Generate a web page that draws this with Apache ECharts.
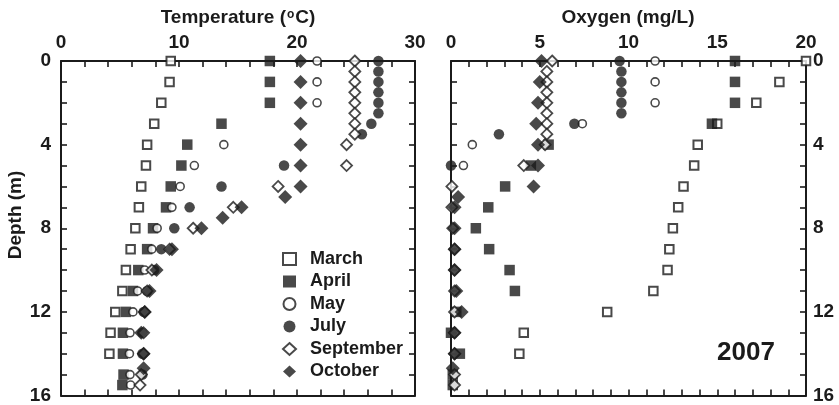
<!DOCTYPE html>
<html>
<head>
<meta charset="utf-8">
<script src="https://cdn.jsdelivr.net/npm/echarts@6/dist/echarts.min.js"></script>
<style>
html,body{margin:0;padding:0;background:#fff;}
#chart{width:839px;height:405px;}
</style>
</head>
<body>
<div id="chart"></div>
<script>
// ---- Data (depth in m; temperature in °C; oxygen in mg/L) ----
const months = ['March', 'April', 'May', 'July', 'September', 'October'];

const marchTempDepth = [0,1,2,3,4,5,6,7,8,9,10,11,12,13,14];
const marchTemp      = [9.3,9.2,8.5,7.9,7.3,7.2,6.8,6.6,6.3,5.9,5.5,5.2,4.6,4.2,4.1];
const marchOxyDepth  = [0,1,2,3,4,5,6,7,8,9,10,11,12,13,14];
const marchOxy       = [20.0,18.5,17.2,15.0,13.9,13.7,13.1,12.8,12.5,12.3,12.2,11.4,8.8,4.1,3.85];

const aprilTempDepth = [0,1,2,3,4,5,6,7,8,9,10,11,12,13,14,15,15.5];
const aprilTemp      = [17.7,17.7,17.7,13.6,10.7,10.2,9.3,8.9,7.8,7.3,6.55,6.1,5.5,5.25,5.25,5.3,5.2];
const aprilOxyDepth  = [0,1,2,3,4,5,6,7,8,9,10,11,12,13,14,15,15.5];
const aprilOxy       = [16.0,16.0,16.0,14.7,5.5,4.5,3.05,2.1,1.4,2.15,3.3,3.6,0.3,0.0,0.5,0.1,0.1];

const mayTempDepth = [0,1,2,4,5,6,7,8,9,10,11,12,13,14,15,15.5];
const mayTemp      = [21.7,21.7,21.7,13.8,11.3,10.1,9.4,8.15,7.7,7.1,6.5,6.1,5.85,5.8,5.85,5.9];
const mayOxyDepth  = [0,1,2,3,4,5];
const mayOxy       = [11.5,11.5,11.5,7.4,1.2,0.7];

const julyTempDepth = [0,0.5,1,1.5,2,2.5,3,3.5,5,6,7,8,9,10,11,12,13,14,15];
const julyTemp      = [26.9,26.9,26.9,26.9,26.9,26.9,26.3,25.5,18.9,13.6,10.9,9.6,8.5,7.9,7.3,7.0,6.9,6.9,6.9];
const julyOxyDepth  = [0,0.5,1,1.5,2,2.5,3,3.5,5];
const julyOxy       = [9.5,9.6,9.6,9.6,9.6,9.6,6.95,2.7,0.0];

const septTempDepth = [0,0.5,1,1.5,2,2.5,3,3.5,4,5,6,7,8,9,10,11,12,13,14,15,15.5];
const septTemp      = [24.9,24.9,24.9,24.9,24.9,24.9,24.9,24.9,24.2,24.2,18.4,14.6,11.2,9.2,7.7,7.3,7.1,7.0,7.0,6.8,6.7];
const septOxyDepth  = [0,0.5,1,1.5,2,2.5,3,3.5,4,5,6,7,8,9,10,11,12,13,14,15,15.5];
const septOxy       = [5.7,5.4,5.4,5.4,5.4,5.4,5.4,5.4,5.3,4.1,0.05,0.05,0.1,0.2,0.2,0.2,0.2,0.2,0.2,0.2,0.2];

const octTempDepth = [0,1,2,3,4,5,6,6.5,7,7.5,8,9,10,11,12,13,14,14.7];
const octTemp      = [20.3,20.3,20.3,20.3,20.3,20.3,20.3,19.0,15.3,13.7,11.9,9.4,8.1,7.5,7.1,6.8,7.0,7.0];
const octOxyDepth  = [0,1,2,3,4,5,6,6.5,7,8,9,10,11,12,13,14,14.7];
const octOxy       = [5.1,5.0,4.9,4.8,4.9,4.9,4.65,0.4,0.2,0.2,0.2,0.2,0.3,0.6,0.2,0.2,0.1];

const yearLabel = '2007';

// ---- Styling ----
const INK = '#1b1b1b';
const FONT = 'Liberation Sans, Arial, sans-serif';

const markerStyles = {
  'March':     {symbol: 'rect',    size: 8.5, itemStyle: {color: '#fff', borderColor: INK, borderWidth: 2}},
  'April':     {symbol: 'rect',    size: 10.5, itemStyle: {color: INK}},
  'May':       {symbol: 'circle',  size: 8,   itemStyle: {color: '#fff', borderColor: INK, borderWidth: 1.6}},
  'July':      {symbol: 'circle',  size: 10.5, itemStyle: {color: INK}},
  'September': {symbol: 'diamond', size: 11,  itemStyle: {color: '#fff', borderColor: INK, borderWidth: 1.8}},
  'October':   {symbol: 'diamond', size: 14,  itemStyle: {color: INK}}
};

const tempSets = {
  'March': [marchTempDepth, marchTemp], 'April': [aprilTempDepth, aprilTemp],
  'May': [mayTempDepth, mayTemp], 'July': [julyTempDepth, julyTemp],
  'September': [septTempDepth, septTemp], 'October': [octTempDepth, octTemp]
};
const oxySets = {
  'March': [marchOxyDepth, marchOxy], 'April': [aprilOxyDepth, aprilOxy],
  'May': [mayOxyDepth, mayOxy], 'July': [julyOxyDepth, julyOxy],
  'September': [septOxyDepth, septOxy], 'October': [octOxyDepth, octOxy]
};

function pairs(depths, vals) { return vals.map((v, i) => [v, depths[i]]); }

const series = [];
months.forEach(m => {
  const st = markerStyles[m];
  series.push({
    name: m, type: 'scatter', xAxisIndex: 0, yAxisIndex: 0,
    symbol: st.symbol, symbolSize: st.size, itemStyle: st.itemStyle,
    data: pairs(tempSets[m][0], tempSets[m][1]), animation: false, silent: true
  });
  series.push({
    name: m, type: 'scatter', xAxisIndex: 2, yAxisIndex: 3,
    symbol: st.symbol, symbolSize: st.size, itemStyle: st.itemStyle,
    data: pairs(oxySets[m][0], oxySets[m][1]), animation: false, silent: true
  });
});

const axisLine = {show: true, onZero: false, lineStyle: {color: INK, width: 2}};
const axisTick = {show: true, inside: true, length: 6, lineStyle: {color: INK, width: 1.6}};
const labelStyle = {color: INK, fontSize: 19, fontWeight: 'bold', fontFamily: FONT};

function xAx(grid, pos, max, interval, labelEvery, showLabel) {
  return {
    type: 'value', gridIndex: grid, position: pos, min: 0, max: max, interval: interval,
    axisLine: axisLine, axisTick: axisTick, splitLine: {show: false},
    axisLabel: Object.assign({show: showLabel, margin: 9,
      formatter: v => (Math.abs(v % labelEvery) < 1e-9 ? String(v) : '')}, labelStyle)
  };
}
function yAx(grid, pos, showLabel, margin) {
  return {
    type: 'value', gridIndex: grid, position: pos, inverse: true, min: 0, max: 16, interval: 1,
    axisLine: axisLine, axisTick: axisTick, splitLine: {show: false},
    axisLabel: Object.assign({show: showLabel, margin: margin,
      formatter: v => (v % 4 === 0 ? String(v) : '')}, labelStyle)
  };
}

const option = {
  backgroundColor: '#fff',
  animation: false,
  grid: [
    {left: 61, top: 61, width: 354, height: 335},
    {left: 451, top: 61, width: 355, height: 335}
  ],
  xAxis: [
    xAx(0, 'top', 30, 2, 10, true),
    xAx(0, 'bottom', 30, 2, 10, false),
    xAx(1, 'top', 20, 1, 5, true),
    xAx(1, 'bottom', 20, 1, 5, false)
  ],
  yAxis: [
    yAx(0, 'left', true, 10),
    yAx(0, 'right', false, 8),
    yAx(1, 'left', false, 8),
    yAx(1, 'right', true, 7)
  ],
  legend: {
    orient: 'vertical', left: 277, top: 245,
    itemWidth: 13, itemHeight: 12, itemGap: 4.5,
    data: months,
    textStyle: {color: INK, fontSize: 18, fontWeight: 'bold', fontFamily: FONT, lineHeight: 18,
      padding: [0, 0, 0, 9]},
    selectedMode: false
  },
  graphic: [
    {type: 'text', x: 238, y: 18, silent: true,
     style: {text: '{a|Temperature (}{b|o}{a|C)}', align: 'center', verticalAlign: 'middle',
       rich: {a: {fontSize: 19, fontWeight: 'bold', fontFamily: FONT, fill: INK},
              b: {fontSize: 12, fontWeight: 'bold', fontFamily: FONT, fill: INK, verticalAlign: 'top', padding: [0, 1, 6, 1]}}}},
    {type: 'text', x: 628, y: 18, silent: true,
     style: {text: 'Oxygen (mg/L)', align: 'center', verticalAlign: 'middle',
       fontSize: 19, fontWeight: 'bold', fontFamily: FONT, fill: INK}},
    {type: 'text', x: 16, y: 215, rotation: Math.PI / 2, silent: true,
     style: {text: 'Depth (m)', align: 'center', verticalAlign: 'middle',
       fontSize: 19, fontWeight: 'bold', fontFamily: FONT, fill: INK}},
    {type: 'text', x: 746, y: 353, silent: true,
     style: {text: yearLabel, align: 'center', verticalAlign: 'middle',
       fontSize: 26, fontWeight: 'bold', fontFamily: FONT, fill: INK}}
  ],
  series: series
};

const chart = echarts.init(document.getElementById('chart'), null, {renderer: 'canvas'});
chart.setOption(option);
</script>
</body>
</html>
